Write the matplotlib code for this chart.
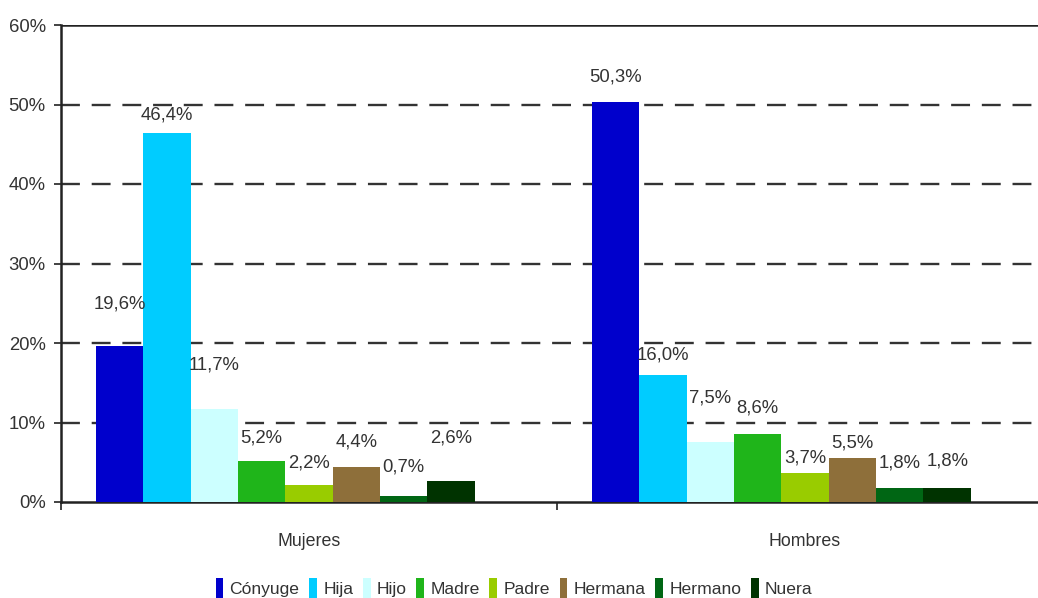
import matplotlib
matplotlib.use("Agg")
import matplotlib.pyplot as plt
from matplotlib.patches import Patch
import numpy as np

plt.rcParams['font.family'] = ['Liberation Sans', 'DejaVu Sans']

categories = ["Mujeres", "Hombres"]
series = ["Cónyuge", "Hija", "Hijo", "Madre", "Padre", "Hermana", "Hermano", "Nuera"]
values = {
    "Cónyuge": [19.6, 50.3],
    "Hija": [46.4, 16.0],
    "Hijo": [11.7, 7.5],
    "Madre": [5.2, 8.6],
    "Padre": [2.2, 3.7],
    "Hermana": [4.4, 5.5],
    "Hermano": [0.7, 1.8],
    "Nuera": [2.6, 1.8],
}
yticks = [0, 10, 20, 30, 40, 50, 60]

colors = ["#0000CC", "#00CCFF", "#CCFFFF", "#1FB51A", "#99CC00", "#8E6F3A", "#006614", "#003300"]
# label gap above bar top, in pixels (layout only)
label_gap = {
    "Cónyuge": [42, 25],
    "Hija": [18, 20],
    "Hijo": [44, 44],
    "Madre": [23, 26],
    "Padre": [22, 15],
    "Hermana": [25, 15],
    "Hermano": [29, 25],
    "Nuera": [43, 27],
}

W, H = 1038, 598
fig = plt.figure(figsize=(W / 100, H / 100), dpi=100)
ax_left, ax_right = 61, 1053
ax_bottom, ax_top = 502, 25
ax = fig.add_axes([ax_left / W, (H - ax_bottom) / H, (ax_right - ax_left) / W, (ax_bottom - ax_top) / H])

nslots = 9
gap = 0.07
bw = (1 - 2 * gap) / nslots
text_color = "#333333"
for i, s in enumerate(series):
    xs = np.arange(len(categories)) + gap + bw * i + bw / 2
    ax.bar(xs, values[s], width=bw, color=colors[i], align="center", zorder=3)
    for j, (x, v) in enumerate(zip(xs, values[s])):
        lab = f"{v:.1f}%".replace(".", ",")
        ax.annotate(lab, (x, v), xytext=(0, label_gap[s][j] * 0.72), textcoords="offset points",
                    ha="center", va="center", fontsize=13.3, color=text_color, zorder=4)

ax.set_xlim(0, 2)
ax.set_ylim(0, 60)
ax.set_yticks(yticks)
ax.set_yticklabels([f"{t}%" for t in yticks], fontsize=13.3, color=text_color)
for t in yticks[1:-1]:
    ax.axhline(t, color="#333333", lw=1.7, dashes=(8, 5), zorder=2)
ax.axhline(60, color="#222222", lw=1.8, zorder=2)

ax.set_xticks([0, 1, 2])
ax.set_xticklabels([])
ax.set_xticks([0.5, 1.5], minor=True)
ax.set_xticklabels(categories, minor=True)
ax.tick_params(axis="x", which="minor", length=0, pad=22, labelsize=12.8, labelcolor=text_color)
ax.tick_params(axis="x", which="major", length=6, width=1.2, direction="out", color="#222222")
ax.tick_params(axis="y", length=5, width=1.2, color="#222222", pad=6)

for sp in ["top", "right"]:
    ax.spines[sp].set_visible(False)
ax.spines["left"].set_linewidth(1.8)
ax.spines["bottom"].set_linewidth(1.8)
ax.spines["left"].set_color("#222222")
ax.spines["bottom"].set_color("#222222")

handles = [Patch(facecolor=c, edgecolor="none") for c in colors]
fig.legend(handles, series, loc="center", bbox_to_anchor=(514 / W, (H - 588) / H), ncol=8,
           frameon=False, fontsize=12.6, handlelength=0.45, handleheight=1.3, handletextpad=0.35,
           columnspacing=0.55, labelcolor=text_color)

fig.savefig("out.png", dpi=100)
